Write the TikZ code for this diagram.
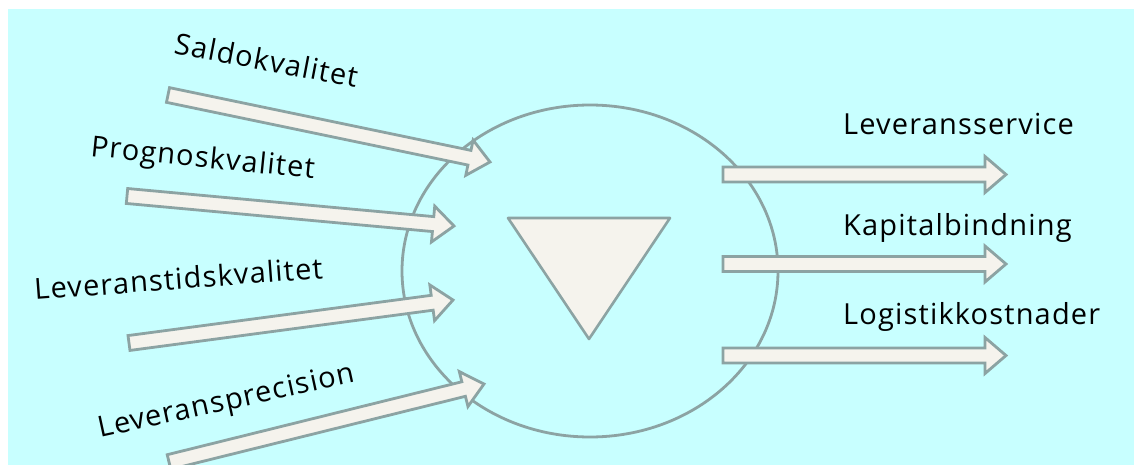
\documentclass[tikz,border=0pt]{standalone}
\usepackage{fontspec}
\setmainfont{Open Sans}[LetterSpace=4]
\usetikzlibrary{calc,shapes.geometric}
\definecolor{bg}{RGB}{200,255,255}
\definecolor{edge}{RGB}{140,163,163}
\definecolor{pale}{RGB}{245,243,237}
\tikzset{
  blockarrow/.style={draw=edge, fill=pale, line width=2.8pt, line join=miter},
  lbl/.style={inner sep=0pt, anchor=base west, font=\fontsize{29}{34}\selectfont, text=black},
}
\newcommand\BlockArrow[2]{%
  \coordinate (hb) at ($(#2)!21pt!(#1)$);
  \draw[blockarrow] ($(#1)!7.5pt!-90:(#2)$) -- ($(hb)!7.5pt!-90:(#2)$) -- ($(hb)!18pt!-90:(#2)$) -- (#2)
    -- ($(hb)!18pt!90:(#2)$) -- ($(hb)!7.5pt!90:(#2)$) -- ($(#1)!7.5pt!90:(#2)$) -- cycle;}
\begin{document}
\begin{tikzpicture}[x=1pt,y=-1pt]
\useasboundingbox (0,0) rectangle (1134,465);
\fill[bg] (8,9) rectangle (1134,465);
% system ellipse
\node[draw=edge, line width=2.8pt, ellipse, minimum width=376pt, minimum height=332pt, inner sep=0pt] (sys) at (590,271) {};
% triangle
\coordinate (t1) at (508,218);
\coordinate (t2) at (670,218);
\coordinate (t3) at (589,339);
\draw[draw=edge, fill=pale, line width=2.6pt, line join=round] (t1) -- (t2) -- (t3) -- cycle;
% input arrows
\coordinate (a1s) at (168,95);  \coordinate (a1e) at (490,162);
\coordinate (a2s) at (127,196); \coordinate (a2e) at (454,226);
\coordinate (a3s) at (129,343); \coordinate (a3e) at (453,300);
\coordinate (a4s) at (169,462); \coordinate (a4e) at (484,384);
\BlockArrow{a1s}{a1e}
\BlockArrow{a2s}{a2e}
\BlockArrow{a3s}{a3e}
\BlockArrow{a4s}{a4e}
% output arrows
\coordinate (b1s) at (723,174.5); \coordinate (b1e) at (1006,174.5);
\coordinate (b2s) at (723,264);   \coordinate (b2e) at (1006,264);
\coordinate (b3s) at (723,355.5); \coordinate (b3e) at (1006,355.5);
\BlockArrow{b1s}{b1e}
\BlockArrow{b2s}{b2e}
\BlockArrow{b3s}{b3e}
% labels
\node[lbl, rotate=-10.8] (l1) at (173,53) {Saldokvalitet};
\node[lbl, rotate=-5.8] (l2) at (90,156) {Prognoskvalitet};
\node[lbl, rotate=4.3] (l3) at (35,300) {Leveranstidskvalitet};
\node[lbl, rotate=12.3] (l4) at (100,438) {Leveransprecision};
\node[lbl] (r1) at (843,135) {Leveransservice};
\node[lbl] (r2) at (843,235) {Kapitalbindning};
\node[lbl] (r3) at (843,324) {Logistikkostnader};
\end{tikzpicture}
\end{document}
